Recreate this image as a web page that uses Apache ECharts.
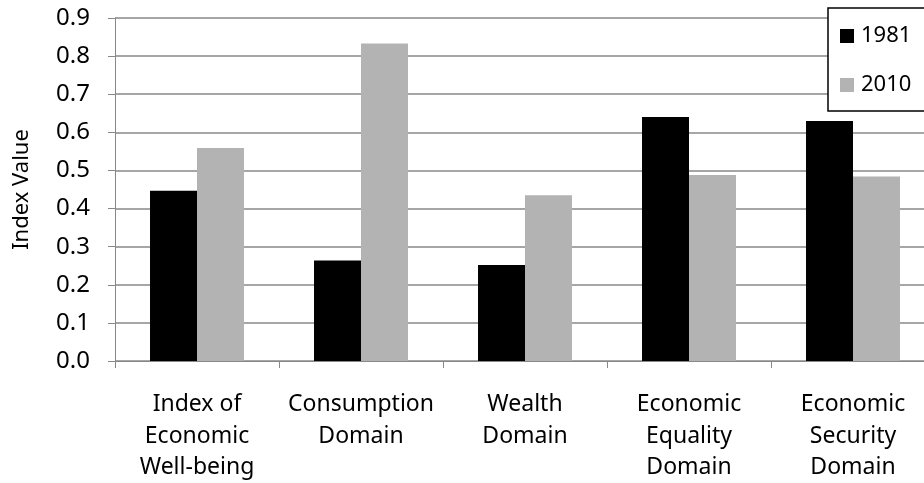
<!DOCTYPE html>
<html>
<head>
<meta charset="utf-8">
<script src="https://cdn.jsdelivr.net/npm/echarts@6/dist/echarts.min.js"></script>
<style>html,body{margin:0;padding:0;background:#fff}#c{width:924px;height:483px}</style>
</head>
<body>
<div id="c"></div>
<script>
const categories = ["Index of\nEconomic\nWell-being", "Consumption\nDomain", "Wealth\nDomain", "Economic\nEquality\nDomain", "Economic\nSecurity\nDomain"];
const seriesNames = ["1981", "2010"];
const values1981 = [0.447, 0.264, 0.252, 0.640, 0.630];
const values2010 = [0.559, 0.833, 0.435, 0.488, 0.484];
const yTicks = {min: 0, max: 0.9, interval: 0.1};

const font = "Noto Sans";
const chart = echarts.init(document.getElementById('c'), null, {renderer: 'canvas'});
chart.setOption({
  animation: false,
  backgroundColor: '#fff',
  grid: {left: 115, top: 18, width: 820, height: 343, containLabel: false, outerBoundsMode: 'none'},
  legend: {
    data: seriesNames,
    orient: 'vertical',
    left: 828, top: 8,
    padding: [17, 30, 15, 12],
    itemGap: 27,
    itemWidth: 14, itemHeight: 14,
    icon: 'rect',
    borderColor: '#000', borderWidth: 1.5,
    backgroundColor: '#fff',
    textStyle: {fontFamily: font, fontSize: 22, color: '#000', padding: [0,0,0,2]}
  },
  xAxis: {
    type: 'category',
    data: categories,
    axisLine: {lineStyle: {color: '#888', width: 1}},
    axisTick: {show: true, length: 7, lineStyle: {color: '#888'}},
    axisLabel: {fontFamily: font, fontSize: 23, color: '#000', lineHeight: 31.5, margin: 28, interval: 0}
  },
  yAxis: {
    type: 'value',
    min: yTicks.min, max: yTicks.max, interval: yTicks.interval,
    name: 'Index Value',
    nameLocation: 'middle',
    nameGap: 82,
    nameRotate: 90,
    nameTextStyle: {fontFamily: font, fontSize: 22, color: '#000'},
    axisLine: {show: true, lineStyle: {color: '#888', width: 1}},
    axisTick: {show: true, length: 7, lineStyle: {color: '#888'}},
    axisLabel: {fontFamily: font, fontSize: 24, color: '#000', margin: 25, formatter: v => v.toFixed(1)},
    splitLine: {show: true, lineStyle: {color: '#888', width: 1.5}}
  },
  series: [
    {name: seriesNames[0], type: 'bar', data: values1981, itemStyle: {color: '#000'}, barGap: '0%', barCategoryGap: '42.7%'},
    {name: seriesNames[1], type: 'bar', data: values2010, itemStyle: {color: '#b3b3b3'}, barGap: '0%', barCategoryGap: '42.7%'}
  ]
});
</script>
</body>
</html>
